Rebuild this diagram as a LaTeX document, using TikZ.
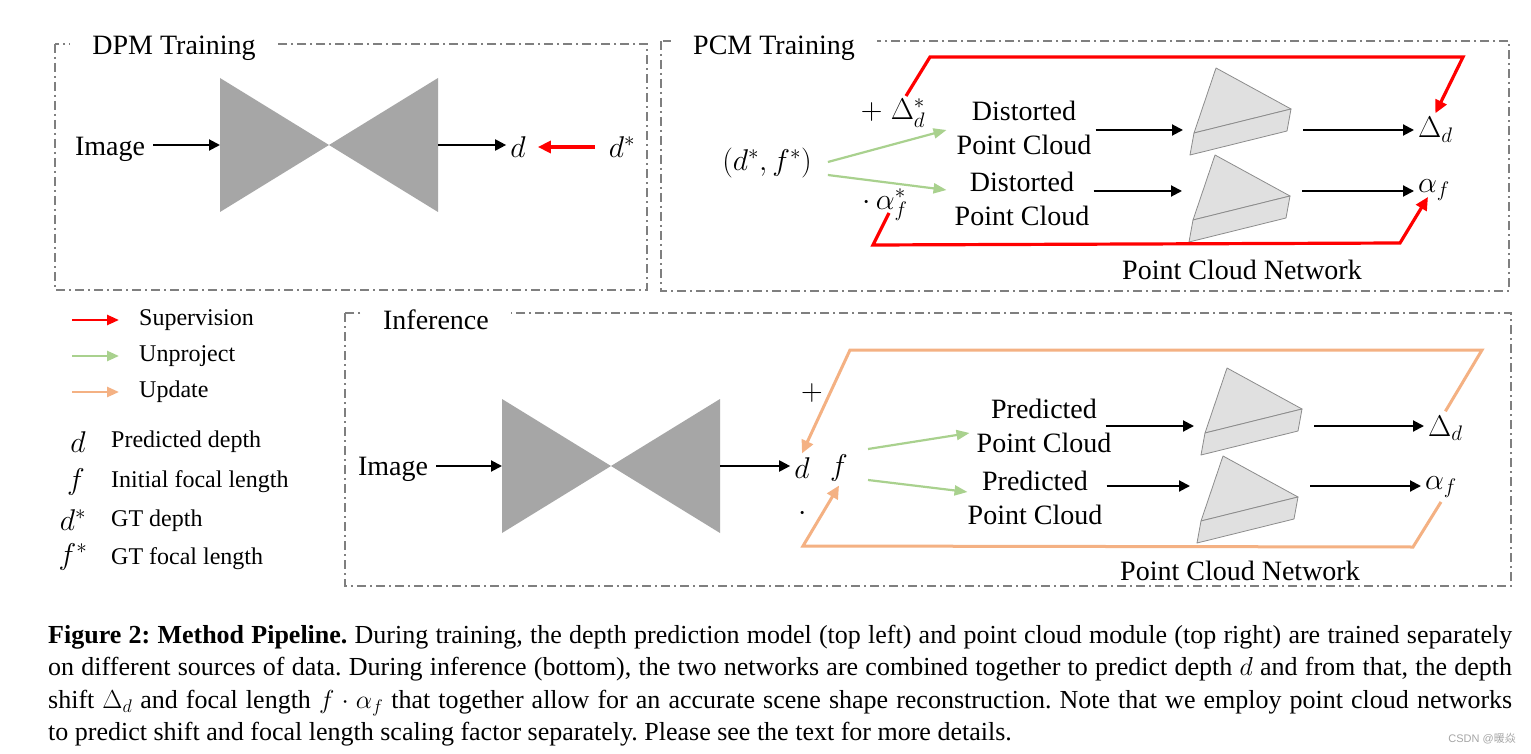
\RequirePackage{fix-cm}
\documentclass[tikz,border=0pt]{standalone}
\usepackage{fontspec}
\setmainfont{Liberation Serif}
\newfontfamily\cjkfont{Noto Sans CJK SC}
\newfontfamily\wmfont{Liberation Sans}
\usetikzlibrary{arrows.meta}

\definecolor{boxgray}{HTML}{7F7F7F}
\definecolor{netgray}{HTML}{A6A6A6}
\definecolor{wedgefill}{HTML}{E0E0E0}
\definecolor{wedgeedge}{HTML}{8C8C8C}
\definecolor{supred}{HTML}{FF0000}
\definecolor{unprojgreen}{HTML}{A9D18E}
\definecolor{updorange}{HTML}{F4B183}

\newcommand{\diagfont}{\fontsize{28}{34}\selectfont}
\newcommand{\symfont}{\fontsize{30}{34}\selectfont}
\newcommand{\legfont}{\fontsize{24}{28}\selectfont}
\newcommand{\capfont}{\fontsize{26}{32.3}\selectfont\frenchspacing}

\tikzset{
  region/.style={draw=boxgray,line width=1.6pt,dash pattern=on 9pt off 4pt on 2pt off 4pt},
  regiontitle/.style={fill=white,inner xsep=22pt,inner ysep=1pt,font=\diagfont},
  lbl/.style={font=\diagfont,align=center,inner sep=4pt},
  sym/.style={font=\symfont,inner sep=4pt},
  legtext/.style={font=\legfont,anchor=west,inner sep=4pt},
  blk/.style={line width=2pt,-{Triangle[length=11pt,width=11pt]}},
  sup/.style={draw=supred,line width=3.2pt,-{Triangle[length=13pt,width=12pt]}},
  unproj/.style={draw=unprojgreen,line width=2.2pt,-{Triangle[length=13pt,width=10pt]}},
  upd/.style={draw=updorange,line width=3pt,-{Triangle[length=13pt,width=12pt]}},
  wedge/.style={fill=wedgefill,draw=wedgeedge,line width=0.8pt,line join=round},
}

% encoder-decoder: name, left centre
\newcommand{\encdec}[2]{%
  \begin{scope}[shift={#2}]
    \fill[netgray] (0,-67) -- (0,67) -- (109,0) -- cycle;
    \fill[netgray] (218,-67) -- (218,67) -- (109,0) -- cycle;
    \coordinate (#1-in) at (0,0);
    \coordinate (#1-out) at (218,0);
  \end{scope}}

% point cloud network: name, middle left corner, arrow offset
\newcommand{\pcnet}[3]{%
  \begin{scope}[shift={#2}]
    \filldraw[wedge] (0,0) -- (22,-65) -- (97,-24) -- cycle;
    \filldraw[wedge] (0,0) -- (97,-24) -- (93,-2) -- (-4,22) -- cycle;
    \coordinate (#1-in) at (-11,#3);
    \coordinate (#1-out) at (109,#3);
  \end{scope}}

\begin{document}
\begin{tikzpicture}[x=1pt,y=-1pt]
\fill[white] (0,0) rectangle (1531,754);
\useasboundingbox (0,0) rectangle (1531,754);

% regions
\draw[region] (55,44) rectangle (647,290);
\node (dpmtitle) [regiontitle] at (174,48) {DPM Training};
\draw[region] (661,41) rectangle (1509,291);
\node (pcmtitle) [regiontitle] at (774,48) {PCM Training};
\draw[region] (345,313) rectangle (1511,586);
\node (inftitle) [regiontitle] at (436,320) {Inference};

% DPM training
\node (img1) [lbl,inner xsep=8pt] at (110,149) {Image};
\encdec{dpm}{(220,145)}
\node (d1) [sym] at (518,147) {$d$};
\node (ds1) [sym] at (622,147) {$d^*$};
\draw[blk] (img1.east |- dpm-in) -- (dpm-in);
\draw[blk] (dpm-out) -- (dpm-out -| d1.west);
\draw[sup,shorten <=10pt,shorten >=8pt] (ds1.west) -- (d1.east);

% PCM training
\node (gt) [sym] at (767,163) {$(d^*, f^*)$};
\node (plusd) [sym] at (893,113) {$+\;\Delta^*_d$};
\node (timesa) [sym] at (885,205) {$\cdot\,\alpha^*_f$};
\node (dpc1) [lbl] at (1024,128) {Distorted\\Point Cloud};
\node (dpc2) [lbl] at (1022,199) {Distorted\\Point Cloud};
\pcnet{net1}{(1194,133)}{-3}
\pcnet{net2}{(1193,220)}{-29}
\node (dd1) [sym,anchor=west] at (1414,130) {$\Delta_d$};
\node (af1) [sym,anchor=west] at (1414,190) {$\alpha_f$};
\node (pcn1) [lbl] at (1242,270) {Point Cloud Network};
\draw[unproj] ([xshift=12pt,yshift=1pt]gt.east) -- ([xshift=-6pt,yshift=-2pt]dpc1.west);
\draw[unproj] ([xshift=12pt,yshift=-12pt]gt.east) -- ([xshift=-4pt,yshift=9pt]dpc2.west);
\draw[blk] (dpc1.east |- net1-in) -- (net1-in);
\draw[blk] (dpc2.east |- net2-in) -- (net2-in);
\draw[blk] (net1-out) -- (dd1.west |- net1-out);
\draw[blk] (net2-out) -- (af1.west |- net2-out);
\coordinate (sa) at (906,96);
\coordinate (sb) at (930,57);
\coordinate (sc) at (1463,57);
\draw[sup] (sa) -- (sb) -- (sc) -- (dd1.north);
\coordinate (sd) at (889,213);
\coordinate (se) at (873,245);
\coordinate (sf) at (1400,243);
\draw[sup] (sd) -- (se) -- (sf) -- ([xshift=-6pt,yshift=8pt]af1.south);

% legend
\node (lsup) [legtext] at (135,320) {Supervision};
\node (lunp) [legtext] at (135,356) {Unproject};
\node (lupd) [legtext] at (135,392) {Update};
\draw[supred,line width=2.5pt,-{Triangle[length=12pt,width=10pt]}] ([xshift=-63pt]lsup.west) -- ([xshift=-16pt]lsup.west);
\draw[unprojgreen,line width=2.5pt,-{Triangle[length=12pt,width=10pt]}] ([xshift=-63pt]lunp.west) -- ([xshift=-16pt]lunp.west);
\draw[updorange,line width=2.5pt,-{Triangle[length=12pt,width=10pt]}] ([xshift=-63pt]lupd.west) -- ([xshift=-16pt]lupd.west);
\node (ld) [sym] at (78,442) {$d$};
\node (lf) [sym] at (76,482) {$f$};
\node (lds) [sym] at (73,520) {$d^*$};
\node (lfs) [sym] at (73,557) {$f^*$};
\node (ldt) [legtext] at (107,442) {Predicted depth};
\node (lft) [legtext] at (107,482) {Initial focal length};
\node (ldst) [legtext] at (107,521) {GT depth};
\node (lfst) [legtext] at (107,559) {GT focal length};

% inference
\node (img2) [lbl,inner xsep=8pt] at (393,469) {Image};
\encdec{inf}{(502,466)}
\node (d2) [sym] at (802,468) {$d$};
\node (f2) [sym] at (839,468) {$f$};
\node (plus) [sym] at (812,393) {$+$};
\node (dot) [sym] at (803,514) {$\cdot$};
\node (pc1) [lbl] at (1044,426) {Predicted\\Point Cloud};
\node (pc2) [lbl] at (1035,498) {Predicted\\Point Cloud};
\pcnet{net3}{(1205,433)}{-7}
\pcnet{net4}{(1201,521)}{-35}
\node (dd2) [sym,anchor=west] at (1424,428) {$\Delta_d$};
\node (af2) [sym,anchor=west] at (1421,487) {$\alpha_f$};
\node (pcn2) [lbl] at (1240,571) {Point Cloud Network};
\draw[blk] (img2.east |- inf-in) -- (inf-in);
\draw[blk] (inf-out) -- (inf-out -| d2.west);
\draw[unproj] ([xshift=16pt,yshift=19pt]f2.east) -- ([xshift=-3pt,yshift=-7pt]pc1.west);
\draw[unproj] ([xshift=16pt,yshift=-12pt]f2.east) -- ([xshift=4pt,yshift=6pt]pc2.west);
\draw[blk] ([xshift=-10pt]pc1.east |- net3-in) -- (net3-in);
\draw[blk] (pc2.east |- net4-in) -- (net4-in);
\draw[blk] (net3-out) -- (dd2.west |- net3-out);
\draw[blk] (net4-out) -- (af2.west |- net4-out);
\coordinate (ua) at (1482,350);
\coordinate (ub) at (850,350);
\draw[upd] (dd2.north) -- (ua) -- (ub) -- (d2.north);
\coordinate (uc) at (1413,547);
\coordinate (ud) at (803,546);
\draw[upd] (af2.south) -- (uc) -- (ud) -- (f2.south);

% caption
\node (cap) [anchor=north west,text width=1464pt,align=justify,inner sep=0pt,font=\capfont] at (48,625) {\textbf{Figure 2: Method Pipeline.} During training, the depth prediction model (top left) and point cloud module (top right) are trained separately\linebreak on different sources of data. During inference (bottom), the two networks are combined together to predict depth $d$ and from that, the depth\linebreak shift $\Delta_d$ and focal length $f\cdot\alpha_f$ that together allow for an accurate scene shape reconstruction. Note that we employ point cloud networks\linebreak to predict shift and focal length scaling factor separately. Please see the text for more details.};
\node (wm) [anchor=east,inner sep=0pt,text=gray!70,font=\fontsize{11}{13}\selectfont] at (1516,739) {\wmfont CSDN @\cjkfont 暖焱};
\end{tikzpicture}
\end{document}
